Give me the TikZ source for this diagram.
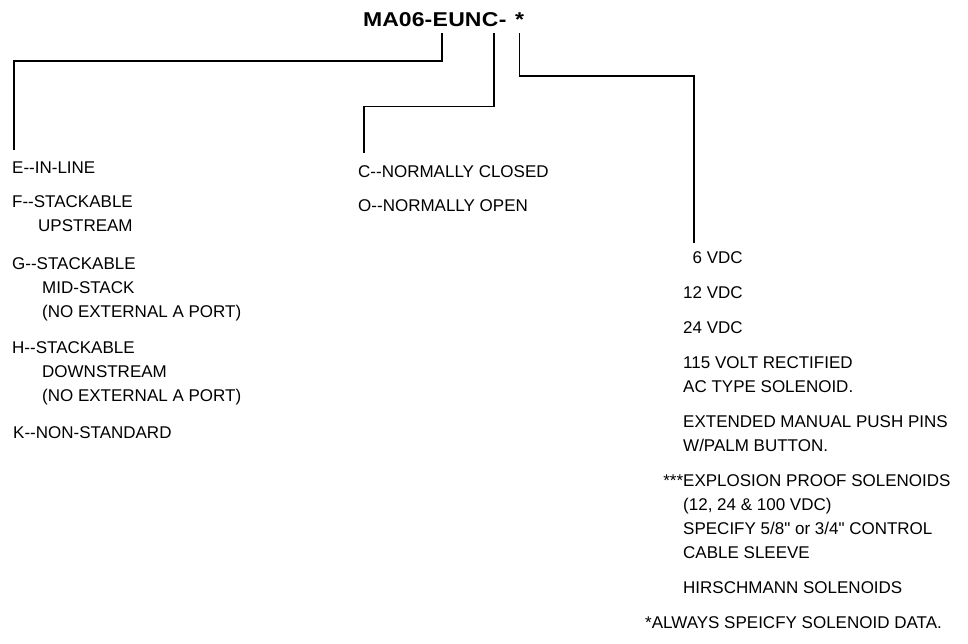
\documentclass[tikz,border=0pt]{standalone}
\usepackage{fontspec}
\newfontfamily\itemfont{Liberation Sans}
\newfontfamily\codefont{Liberation Sans Bold}[FakeStretch=1.15]
\usetikzlibrary{positioning}

\newcommand{\dd}{-{}-}
\newcommand{\ind}{\hspace*{30pt}}

\tikzset{
	lead/.style={line width=1.6pt},
	code/.style={font=\fontsize{20}{24}\codefont, inner sep=0pt, anchor=base west},
	item/.style={font=\fontsize{17}{24}\itemfont, align=left, inner sep=0pt, anchor=north west}
}

\begin{document}
\begin{tikzpicture}[x=1pt, y=-1pt]
		\useasboundingbox (0,0) rectangle (968,644);
		% Bestellschluessel
		\node[code] (ma) at (363,27) {MA06-};
		\node[code] (e) at (ma.base east) {E};
		\node[code] (un) at (e.base east) {UN};
		\node[code] (c) at (un.base east) {C};
		\node[code] (dash) at (c.base east) {-};
		\node[code] (star) at (515,27) {*};
		% Bauform
		\node[item] (gE) at (12,161.5) {E\dd IN-LINE};
		\node[item] (gF) at (12,195.5) {F\dd STACKABLE\\\hspace*{26pt}UPSTREAM};
		\node[item] (gG) at (12,257.5) {G\dd STACKABLE\\\ind MID-STACK\\\ind (NO EXTERNAL A PORT)};
		\node[item] (gH) at (12,341.5) {H\dd STACKABLE\\\ind DOWNSTREAM\\\ind (NO EXTERNAL A PORT)};
		\node[item] (gK) at (13,426.5) {K\dd NON-STANDARD};
		% Grundstellung
		\node[item] (gC) at (358,165.5) {C\dd NORMALLY CLOSED};
		\node[item] (gO) at (358,199.5) {O\dd NORMALLY OPEN};
		% Spulen
		\node[item] (v6) at (683,251.5) {\phantom{1}6 VDC};
		\node[item] (v12) at (683,286.5) {12 VDC};
		\node[item] (v24) at (683,321.5) {24 VDC};
		\node[item] (v115) at (683,356.5) {115 VOLT RECTIFIED\\AC TYPE SOLENOID.};
		\node[item] (pins) at (683,415.5) {EXTENDED MANUAL PUSH PINS\\W/PALM BUTTON.};
		\node[item] (expl) at (683,474.5) {\llap{***}EXPLOSION PROOF SOLENOIDS\\(12, 24 \& 100 VDC)\\SPECIFY 5/8" or 3/4" CONTROL\\CABLE SLEEVE};
		\node[item] (hirsch) at (683,581.5) {HIRSCHMANN SOLENOIDS};
		\node[item] (note) at (645,616.5) {*ALWAYS SPEICFY SOLENOID DATA.};
		% Zuordnung
		\draw[lead] ([xshift=2pt,yshift=-6pt]e.south) -- ++(0,28) -| ([xshift=2pt,yshift=11.5pt]gE.north west);
		\draw[lead] ([xshift=4pt,yshift=-6pt]c.south) -- ++(0,73) -| ([xshift=6pt,yshift=12.5pt]gC.north west);
		\draw[lead] ([yshift=-6pt]star.south) -- ++(0,43) -| ([xshift=11pt,yshift=8.5pt]v6.north west);
	\end{tikzpicture}
\end{document}
